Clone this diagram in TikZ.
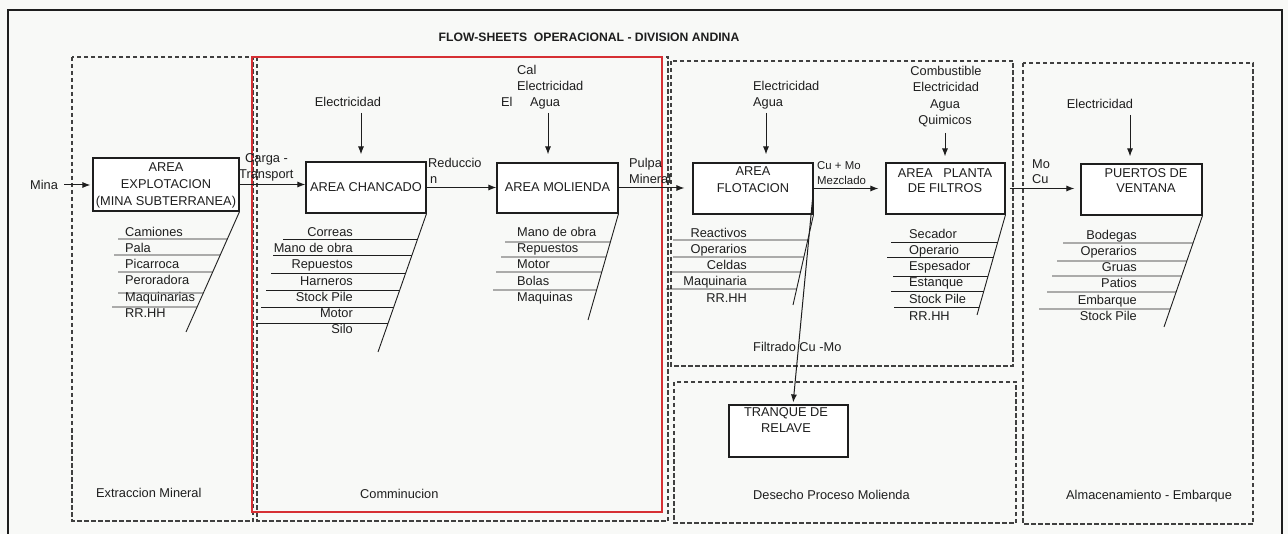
\documentclass[tikz,border=0pt]{standalone}
\usepackage{fontspec}
\setmainfont{Liberation Sans}
\usetikzlibrary{arrows.meta}
\definecolor{paper}{RGB}{248,249,247}
\definecolor{ink}{RGB}{30,30,30}
\definecolor{redline}{RGB}{214,48,52}
\newcommand\fsz{\fontsize{12.8}{15}\selectfont}
\newcommand\fsmall{\fontsize{11.4}{13}\selectfont}
% one rib of a fishbone list: from (x,y) across to the slanted spine #1--#2
\newcommand\rib[4]{\draw[ribline] (#3,#4) -- (intersection of #1--#2 and #3,#4--2000,#4);}

\begin{document}
\begin{tikzpicture}[x=1pt,y=-1pt,
  outerframe/.style={draw=ink, line width=2.4pt},
  region/.style={draw=ink!85, line width=1.1pt, dash pattern=on 4.5pt off 2.5pt},
  redbox/.style={draw=redline, line width=1.5pt},
  box/.style={draw=ink, line width=1.1pt, fill=white, inner sep=0pt},
  ln/.style={font=\fsz, text=ink, inner sep=0pt, text height=9.2pt, text depth=0pt},
  lnsmall/.style={ln, font=\fsmall, text height=8.2pt},
  arr/.style={draw=ink, line width=1pt, -{Latex[length=8pt,width=6pt]}},
  ribline/.style={draw=ink, line width=0.9pt},
]
\useasboundingbox (0,0) rectangle (1288,534);
\fill[paper] (0,0) rectangle (1288,534);
\draw[outerframe] (8,540) -- (8,10) -- (1282,10) -- (1282,540);

% title
\node[ln, font=\fontsize{12.2}{14}\selectfont\bfseries] (title) at (589,37) {FLOW-SHEETS\ \ OPERACIONAL - DIVISION ANDINA};

% process regions
\draw[region] (72,57) rectangle (253,521);
\draw[region] (257,57) rectangle (668,521);
\draw[redbox] (252,57) rectangle (662,512);
\draw[region] (671,61) rectangle (1013,366);
\draw[region] (674,382) rectangle (1016,523);
\draw[region] (1023,63) rectangle (1253,524);

\node[ln, anchor=west] (lbext) at (96,493) {Extraccion Mineral};
\node[ln, anchor=west] (lbcom) at (360,494) {Comminucion};
\node[ln, anchor=west] (lbdes) at (753,495) {Desecho Proceso Molienda};
\node[ln, anchor=west] (lbalm) at (1066,495) {Almacenamiento - Embarque};

% process boxes
\node[box, minimum width=146pt, minimum height=53pt] (expl) at (166,184.5) {};
\node[box, minimum width=120pt, minimum height=51pt] (chan) at (366,187.5) {};
\node[box, minimum width=121pt, minimum height=50pt] (mol) at (557.5,188) {};
\node[box, minimum width=120pt, minimum height=51pt] (flot) at (753,188.5) {};
\node[box, minimum width=119pt, minimum height=51pt] (filt) at (945.5,188.5) {};
\node[box, minimum width=121pt, minimum height=51pt] (puer) at (1141.5,189.5) {};
\node[box, minimum width=119pt, minimum height=52pt] (tranq) at (788.5,431) {};

\node[ln] (explA) at (166,167) {AREA};
\node[ln] (explB) at (166,184) {EXPLOTACION};
\node[ln] (explC) at (166,201) {(MINA SUBTERRANEA)};
\node[ln] (chanA) at (366,187) {AREA CHANCADO};
\node[ln] (molA) at (557.5,187) {AREA MOLIENDA};
\node[ln] (flotA) at (753,171) {AREA};
\node[ln] (flotB) at (753,188) {FLOTACION};
\node[ln] (filtA) at (945,173) {AREA\ \ \ PLANTA};
\node[ln] (filtB) at (945,188) {DE FILTROS};
\node[ln] (puerA) at (1146,173) {PUERTOS DE};
\node[ln] (puerB) at (1146,188) {VENTANA};
\node[ln] (tranqA) at (786,412) {TRANQUE DE};
\node[ln] (tranqB) at (786,428) {RELAVE};

% flow labels
\node[ln, anchor=west] (mina) at (30,185) {Mina};
\node[ln, anchor=west] (cargaA) at (245,158) {Carga -};
\node[ln, anchor=west] (cargaB) at (239,174) {Transport};
\node[ln, anchor=west] (redA) at (428,163) {Reduccio};
\node[ln, anchor=west] (redB) at (430,179) {n};
\node[ln, anchor=west] (pulA) at (629,163) {Pulpa};
\node[ln, anchor=west] (pulB) at (629,179) {Mineral};
\node[lnsmall, anchor=west] (cumoA) at (817,165) {Cu + Mo};
\node[lnsmall, anchor=west] (cumoB) at (817,180) {Mezclado};
\node[ln, anchor=west] (mocuA) at (1032,164) {Mo};
\node[ln, anchor=west] (mocuB) at (1032,179) {Cu};
\node[ln, anchor=west] (filtr) at (753,347) {Filtrado Cu -Mo};

% inputs
\node[ln] (inA) at (348,102) {Electricidad};
\node[ln, anchor=west] (inB1) at (517,70) {Cal};
\node[ln, anchor=west] (inB2) at (517,86) {Electricidad};
\node[ln, anchor=west] (inB3) at (530,102) {Agua};
\node[ln, anchor=west] (inB4) at (501,102) {El};
\node[ln, anchor=west] (inC1) at (753,86) {Electricidad};
\node[ln, anchor=west] (inC2) at (753,102) {Agua};
\node[ln] (inD1) at (946,71) {Combustible};
\node[ln] (inD2) at (946,87) {Electricidad};
\node[ln] (inD3) at (945,104) {Agua};
\node[ln] (inD4) at (945,120) {Quimicos};
\node[ln] (inE) at (1100,104) {Electricidad};

\coordinate (tA) at (361,113);
\coordinate (tB) at (548,113);
\coordinate (tC) at (766,113);
\coordinate (tD) at (945,133);
\coordinate (tE) at (1130,115);
\draw[arr, shorten >=7pt] (tA) -- (tA |- chan.north);
\draw[arr, shorten >=8pt] (tB) -- (tB |- mol.north);
\draw[arr, shorten >=8pt] (tC) -- (tC |- flot.north);
\draw[arr, shorten >=6pt] (tD) -- (tD |- filt.north);
\draw[arr, shorten >=7pt] (tE) -- (tE |- puer.north);

% main flow
\draw[arr, shorten <=6pt, shorten >=2pt] (mina.east) -- (mina.east -| expl.west);
\draw[arr] (expl.east) -- (expl.east -| chan.west);
\draw[arr] (chan.east) -- (chan.east -| mol.west);
\draw[arr, shorten >=8pt] (mol.east) -- (mol.east -| flot.west);
\draw[arr, shorten >=7pt] (flot.east) -- (flot.east -| filt.west);
\draw[arr, shorten <=4pt, shorten >=6pt] (filt.east) -- (filt.east -| puer.west);
\coordinate (tq) at ([xshift=4.5pt]tranq.north);
\draw[arr, shorten >=2pt] (flot.east) -- (tq);

% resources of AREA EXPLOTACION
\coordinate (e1) at (expl.south east);
\coordinate (e2) at (186,332);
\draw[ribline] (e1) -- (e2);
\node[ln, anchor=west] (x1) at (125,232) {Camiones};
\node[ln, anchor=west] (x2) at (125,248) {Pala};
\node[ln, anchor=west] (x3) at (125,264) {Picarroca};
\node[ln, anchor=west] (x4) at (125,280) {Peroradora};
\node[ln, anchor=west] (x5) at (125,297) {Maquinarias};
\node[ln, anchor=west] (x6) at (125,313) {RR.HH};
\rib{e1}{e2}{118}{239}
\rib{e1}{e2}{114}{255}
\rib{e1}{e2}{118}{272}
\rib{e1}{e2}{118}{293}
\rib{e1}{e2}{112}{307}

% resources of AREA CHANCADO
\coordinate (c1) at (chan.south east);
\coordinate (c2) at (378,352);
\draw[ribline] (c1) -- (c2);
\node[ln, anchor=east] (y1) at (353,232) {Correas};
\node[ln, anchor=east] (y2) at (353,248) {Mano de obra};
\node[ln, anchor=east] (y3) at (353,264) {Repuestos};
\node[ln, anchor=east] (y4) at (353,281) {Harneros};
\node[ln, anchor=east] (y5) at (353,297) {Stock Pile};
\node[ln, anchor=east] (y6) at (353,313) {Motor};
\node[ln, anchor=east] (y7) at (353,329) {Silo};
\rib{c1}{c2}{283}{239}
\rib{c1}{c2}{273}{255}
\rib{c1}{c2}{271}{273}
\rib{c1}{c2}{266}{290}
\rib{c1}{c2}{261}{307}
\rib{c1}{c2}{256}{323}

% resources of AREA MOLIENDA
\coordinate (m1) at (mol.south east);
\coordinate (m2) at (588,320);
\draw[ribline] (m1) -- (m2);
\node[ln, anchor=west] (z1) at (517,232) {Mano de obra};
\node[ln, anchor=west] (z2) at (517,248) {Repuestos};
\node[ln, anchor=west] (z3) at (517,264) {Motor};
\node[ln, anchor=west] (z4) at (517,281) {Bolas};
\node[ln, anchor=west] (z5) at (517,297) {Maquinas};
\rib{m1}{m2}{505}{242}
\rib{m1}{m2}{501}{257}
\rib{m1}{m2}{496}{272}
\rib{m1}{m2}{493}{290}

% resources of AREA FLOTACION
\coordinate (f1) at (flot.south east);
\coordinate (f2) at (793,305);
\draw[ribline] (f1) -- (f2);
\node[ln, anchor=east] (w1) at (747,233) {Reactivos};
\node[ln, anchor=east] (w2) at (747,249) {Operarios};
\node[ln, anchor=east] (w3) at (747,265) {Celdas};
\node[ln, anchor=east] (w4) at (747,281) {Maquinaria};
\node[ln, anchor=east] (w5) at (747,298) {RR.HH};
\rib{f1}{f2}{673}{240}
\rib{f1}{f2}{673}{257}
\rib{f1}{f2}{671}{272}
\rib{f1}{f2}{666}{289}

% resources of AREA PLANTA DE FILTROS
\coordinate (g1) at (filt.south east);
\coordinate (g2) at (977,315);
\draw[ribline] (g1) -- (g2);
\node[ln, anchor=west] (v1) at (909,234) {Secador};
\node[ln, anchor=west] (v2) at (909,250) {Operario};
\node[ln, anchor=west] (v3) at (909,266) {Espesador};
\node[ln, anchor=west] (v4) at (909,282) {Estanque};
\node[ln, anchor=west] (v5) at (909,299) {Stock Pile};
\node[ln, anchor=west] (v6) at (909,316) {RR.HH};
\rib{g1}{g2}{891}{242}
\rib{g1}{g2}{887}{257}
\rib{g1}{g2}{893}{276}
\rib{g1}{g2}{891}{291}
\rib{g1}{g2}{894}{307}

% resources of PUERTOS DE VENTANA
\coordinate (h1) at (puer.south east);
\coordinate (h2) at (1164,327);
\draw[ribline] (h1) -- (h2);
\node[ln, anchor=east] (u1) at (1137,235) {Bodegas};
\node[ln, anchor=east] (u2) at (1137,251) {Operarios};
\node[ln, anchor=east] (u3) at (1137,267) {Gruas};
\node[ln, anchor=east] (u4) at (1137,283) {Patios};
\node[ln, anchor=east] (u5) at (1137,300) {Embarque};
\node[ln, anchor=east] (u6) at (1137,316) {Stock Pile};
\rib{h1}{h2}{1063}{243}
\rib{h1}{h2}{1057}{261}
\rib{h1}{h2}{1052}{276}
\rib{h1}{h2}{1047}{292}
\rib{h1}{h2}{1039}{309}
\end{tikzpicture}
\end{document}
